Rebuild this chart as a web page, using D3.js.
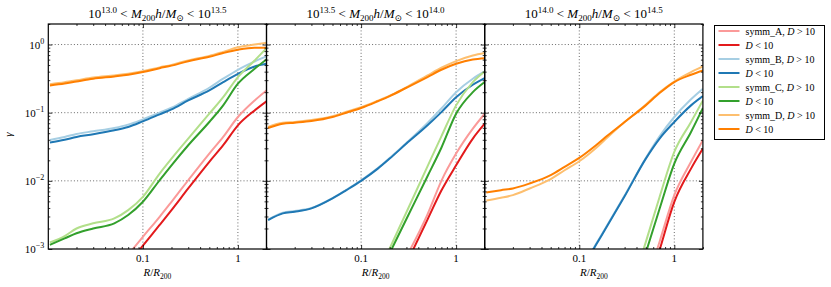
<!DOCTYPE html>
<meta charset="utf-8">
<style>

    body {
        margin: 0;
        background: #fff;
    }

    text {
        font-family: "Liberation Serif", "DejaVu Serif", serif;
        fill: #000;
    }

    path.curve {
        fill: none;
        stroke-width: 2;
    }

    .axis path.domain {
        display: none;
    }

    .axis line {
        stroke: #000;
        stroke-width: 0.8;
    }

    line.grid {
        stroke: #444;
        stroke-width: 0.8;
        stroke-dasharray: 1, 2.2;
    }

    rect.frame {
        fill: none;
        stroke: #000;
        stroke-width: 1.2;
    }

</style>
<body>

<script src="https://cdn.jsdelivr.net/npm/d3@7"></script>
<script>

    // sample radii R/R200 shared by every curve
    var R = [0.0105, 0.015, 0.02, 0.03, 0.05, 0.07, 0.1, 0.15, 0.2, 0.3, 0.5, 0.7, 1, 1.5, 2];

    // panel 1 : 10^13.0 - 10^13.5
    var p1_A_hi = [null, null, null, null, 0.00045, 0.00082, 0.00151, 0.00297, 0.00493, 0.0102, 0.0251, 0.0441, 0.0864, 0.151, 0.212];
    var p1_A_lo = [null, null, null, null, null, 0.0006, 0.00112, 0.00225, 0.00372, 0.00773, 0.019, 0.0333, 0.0653, 0.108, 0.147];
    var p1_B_hi = [0.0398, 0.044, 0.0487, 0.0533, 0.0597, 0.0668, 0.0798, 0.1, 0.118, 0.16, 0.232, 0.315, 0.426, 0.564, 0.675];
    var p1_B_lo = [0.0364, 0.04, 0.0441, 0.0482, 0.0551, 0.0617, 0.0747, 0.0946, 0.112, 0.151, 0.212, 0.281, 0.372, 0.476, 0.521];
    var p1_C_hi = [0.00125, 0.00155, 0.002, 0.00238, 0.00281, 0.00372, 0.00583, 0.0128, 0.0212, 0.0417, 0.0967, 0.169, 0.333, 0.583, 0.884];
    var p1_C_lo = [0.00115, 0.00143, 0.0017, 0.002, 0.00238, 0.00315, 0.00493, 0.0102, 0.0169, 0.0333, 0.073, 0.128, 0.266, 0.44, 0.603];
    var p1_D_hi = [0.262, 0.28, 0.298, 0.327, 0.352, 0.372, 0.405, 0.462, 0.503, 0.585, 0.68, 0.78, 0.91, 1.0, 1.06];
    var p1_D_lo = [0.251, 0.268, 0.287, 0.315, 0.34, 0.36, 0.394, 0.45, 0.49, 0.57, 0.66, 0.75, 0.84, 0.9, 0.9];

    // panel 2 : 10^13.5 - 10^14.0
    var p2_A_hi = [null, null, null, null, null, null, null, null, null, 0.00077, 0.00322, 0.01, 0.0251, 0.0583, 0.0967];
    var p2_A_lo = [null, null, null, null, null, null, null, null, null, 0.00061, 0.0027, 0.0072, 0.0169, 0.0417, 0.069];
    var p2_B_hi = [0.0027, 0.0034, 0.0036, 0.004, 0.0056, 0.0074, 0.0102, 0.0154, 0.0217, 0.036, 0.0706, 0.115, 0.2, 0.315, 0.403];
    var p2_B_lo = [0.00266, 0.00333, 0.00352, 0.00394, 0.00551, 0.0073, 0.01, 0.0151, 0.0212, 0.0352, 0.0653, 0.102, 0.169, 0.257, 0.322];
    var p2_C_hi = [null, null, null, null, null, null, null, 0.00042, 0.00102, 0.00346, 0.0163, 0.045, 0.128, 0.281, 0.403];
    var p2_C_lo = [null, null, null, null, null, null, null, 0.00038, 0.00087, 0.00275, 0.0117, 0.0306, 0.0967, 0.2, 0.281];
    var p2_D_hi = [0.062, 0.071, 0.073, 0.078, 0.089, 0.103, 0.12, 0.15, 0.178, 0.236, 0.352, 0.456, 0.57, 0.69, 0.75];
    var p2_D_lo = [0.0597, 0.069, 0.0714, 0.0755, 0.0864, 0.1, 0.117, 0.147, 0.175, 0.232, 0.333, 0.426, 0.521, 0.603, 0.631];

    // panel 3 : 10^14.0 - 10^14.5
    var p3_A_hi = [null, null, null, null, null, null, null, null, null, null, 0.00029, 0.00128, 0.00617, 0.019, 0.0394];
    var p3_A_lo = [null, null, null, null, null, null, null, null, null, null, 0.00022, 0.00097, 0.00493, 0.0151, 0.0297];
    var p3_B_hi = [null, null, null, null, null, null, 0.00045, 0.00118, 0.00232, 0.0061, 0.0215, 0.045, 0.0864, 0.157, 0.224];
    var p3_B_lo = [null, null, null, null, null, null, 0.00044, 0.00115, 0.00227, 0.00594, 0.021, 0.0417, 0.073, 0.128, 0.175];
    var p3_C_hi = [null, null, null, null, null, null, null, null, null, 0.00013, 0.00125, 0.0058, 0.0266, 0.073, 0.151];
    var p3_C_lo = [null, null, null, null, null, null, null, null, null, 0.0001, 0.00087, 0.0039, 0.0179, 0.052, 0.117];
    var p3_D_hi = [0.00515, 0.00564, 0.00617, 0.00773, 0.0106, 0.0143, 0.0194, 0.0304, 0.0441, 0.073, 0.131, 0.2, 0.287, 0.394, 0.476];
    var p3_D_lo = [0.00675, 0.0073, 0.00773, 0.00914, 0.0121, 0.016, 0.0217, 0.0333, 0.0466, 0.073, 0.128, 0.194, 0.281, 0.36, 0.417];

    var massBins = [["13.0", "13.5"], ["13.5", "14.0"], ["14.0", "14.5"]];
    var symmNames = ["A", "B", "C", "D"];
    var hiColors = ["#fb9a99", "#a6cee3", "#b2df8a", "#fdbf6f"];
    var loColors = ["#e31a1c", "#1f78b4", "#33a02c", "#ff7f00"];

    var yTickValues = [1, 0.1, 0.01, 0.001];
    var yTickExps = ["0", "\u22121", "\u22122", "\u22123"];
    var xTickValues = [0.1, 1];
    var xTickLabels = ["0.1", "1"];

    var panels = [
        [p1_A_hi, p1_A_lo, p1_B_hi, p1_B_lo, p1_C_hi, p1_C_lo, p1_D_hi, p1_D_lo],
        [p2_A_hi, p2_A_lo, p2_B_hi, p2_B_lo, p2_C_hi, p2_C_lo, p2_D_hi, p2_D_lo],
        [p3_A_hi, p3_A_lo, p3_B_hi, p3_B_lo, p3_C_hi, p3_C_lo, p3_D_hi, p3_D_lo]
    ];

    var margin = {top: 24, left: 48.3},
        width = 218.2,
        height = 225;

    var x = d3.scaleLog()
            .domain([0.0101, 2])
            .range([0, width]);

    var y = d3.scaleLog()
            .domain([0.001, 2])
            .range([height, 0]);

    var line = d3.line()
            .defined(function(d) { return d[1] != null; })
            .x(function(d) { return x(d[0]); })
            .y(function(d) { return y(d[1]); })
            .curve(d3.curveMonotoneX);

    var xMinor = x.ticks().filter(function(t) { return xTickValues.indexOf(t) < 0; });
    var yMinor = y.ticks().filter(function(t) { return yTickValues.indexOf(t) < 0; });

    var svg = d3.select("body").append("svg")
            .attr("width", 831)
            .attr("height", 287);

    function seriesColor(i) {
        return i % 2 === 0 ? hiColors[i >> 1] : loColors[i >> 1];
    }

    function addTicks(g, axisFn, vals, size, transform) {
        g.append("g")
                .attr("class", "axis")
                .attr("transform", transform)
                .call(axisFn.tickValues(vals).tickSize(-size).tickFormat(""));
    }

    panels.forEach(function(series, p) {
        var g = svg.append("g")
                .attr("transform", "translate(" + (margin.left + p * width) + "," + margin.top + ")");

        g.append("clipPath")
                .attr("id", "clip" + p)
            .append("rect")
                .attr("width", width)
                .attr("height", height);

        // dotted grid at major ticks
        g.selectAll("line.gx")
                .data(xTickValues)
            .enter().append("line")
                .attr("class", "grid")
                .attr("x1", function(d) { return x(d); })
                .attr("x2", function(d) { return x(d); })
                .attr("y1", 0)
                .attr("y2", height);

        g.selectAll("line.gy")
                .data(yTickValues.slice(0, 3))
            .enter().append("line")
                .attr("class", "grid")
                .attr("x1", 0)
                .attr("x2", width)
                .attr("y1", function(d) { return y(d); })
                .attr("y2", function(d) { return y(d); });

        var curves = g.append("g")
                .attr("clip-path", "url(#clip" + p + ")");

        series.forEach(function(vals, i) {
            curves.append("path")
                    .attr("class", "curve")
                    .attr("stroke", seriesColor(i))
                    .attr("d", line(R.map(function(r, k) { return [r, vals[k]]; })));
        });

        // inward ticks on all four sides
        addTicks(g, d3.axisLeft(y), yTickValues, 4, null);
        addTicks(g, d3.axisLeft(y), yMinor, 2, null);
        addTicks(g, d3.axisRight(y), yTickValues, 4, "translate(" + width + ",0)");
        addTicks(g, d3.axisRight(y), yMinor, 2, "translate(" + width + ",0)");
        addTicks(g, d3.axisBottom(x), xTickValues, 4, "translate(0," + height + ")");
        addTicks(g, d3.axisBottom(x), xMinor, 2, "translate(0," + height + ")");
        addTicks(g, d3.axisTop(x), xTickValues, 4, null);
        addTicks(g, d3.axisTop(x), xMinor, 2, null);

        g.append("rect")
                .attr("class", "frame")
                .attr("width", width)
                .attr("height", height);

        g.selectAll("text.xt")
                .data(xTickValues)
            .enter().append("text")
                .attr("x", function(d) { return x(d); })
                .attr("y", height + 13)
                .style("text-anchor", "middle")
                .style("font-size", "11px")
                .text(function(d, k) { return xTickLabels[k]; });

        var xl = g.append("text")
                .attr("x", width / 2)
                .attr("y", height + 27)
                .style("text-anchor", "middle")
                .style("font-size", "11px");
        xl.append("tspan").style("font-style", "italic").text("R");
        xl.append("tspan").text("/");
        xl.append("tspan").style("font-style", "italic").text("R");
        xl.append("tspan").attr("dy", 2.5).style("font-size", "7.5px").text("200");

        var title = g.append("text")
                .attr("x", width / 2)
                .attr("y", -6)
                .style("text-anchor", "middle")
                .style("font-size", "13px");
        title.append("tspan").text("10");
        title.append("tspan").attr("dy", -5).style("font-size", "9px").text(massBins[p][0]);
        title.append("tspan").attr("dy", 5).text(" < ");
        title.append("tspan").style("font-style", "italic").text("M");
        title.append("tspan").attr("dy", 3).style("font-size", "9px").text("200");
        title.append("tspan").attr("dy", -3).style("font-style", "italic").text("h");
        title.append("tspan").text("/");
        title.append("tspan").style("font-style", "italic").text("M");
        title.append("tspan").attr("dy", 3).style("font-size", "9px").text("\u2299");
        title.append("tspan").attr("dy", -3).text(" < 10");
        title.append("tspan").attr("dy", -5).style("font-size", "9px").text(massBins[p][1]);

        if (p === 0) {
            g.selectAll("text.yt")
                    .data(yTickValues)
                .enter().append("text")
                    .attr("x", -4)
                    .attr("y", function(d) { return y(d) + 4; })
                    .style("text-anchor", "end")
                    .style("font-size", "11px")
                    .each(function(d, k) {
                        var t = d3.select(this);
                        t.append("tspan").text("10");
                        t.append("tspan").attr("dy", -5).style("font-size", "8px").text(yTickExps[k]);
                    });

            g.append("text")
                    .attr("transform", "translate(-36," + (height / 2 - 2) + ") rotate(-90)")
                    .style("text-anchor", "middle")
                    .style("font-size", "11px")
                    .style("font-style", "italic")
                    .text("\u03b3");
        }
    });

    // legend
    var legend = svg.append("g")
            .attr("transform", "translate(714.5,25.5)");

    legend.append("rect")
            .attr("width", 110)
            .attr("height", 114)
            .attr("fill", "#fff")
            .attr("stroke", "#000")
            .attr("stroke-width", 1);

    d3.range(8).forEach(function(i) {
        var ly = 5.5 + i * 14;
        legend.append("line")
                .attr("x1", 4)
                .attr("x2", 25)
                .attr("y1", ly)
                .attr("y2", ly)
                .attr("stroke", seriesColor(i))
                .attr("stroke-width", 2);
        var t = legend.append("text")
                .attr("x", 31)
                .attr("y", ly + 3.5)
                .style("font-size", "10px");
        if (i % 2 === 0) {
            t.append("tspan").text("symm_" + symmNames[i >> 1] + ", ");
            t.append("tspan").style("font-style", "italic").text("D");
            t.append("tspan").text(" > 10");
        } else {
            t.append("tspan").style("font-style", "italic").text("D");
            t.append("tspan").text(" < 10");
        }
    });

</script>
